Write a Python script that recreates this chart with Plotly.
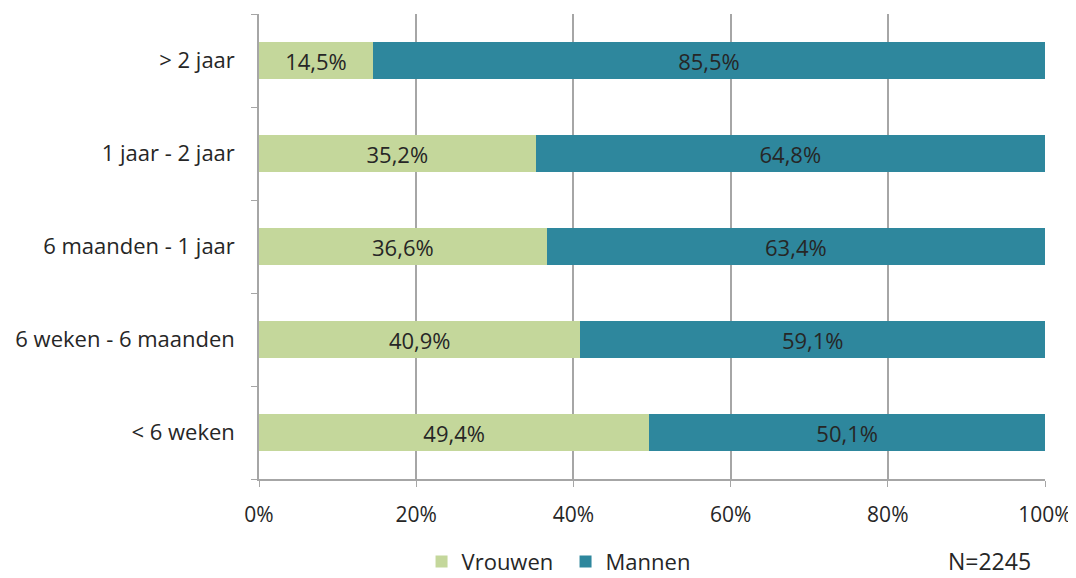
import plotly.graph_objects as go

# categories bottom -> top (Plotly draws first category at the bottom)
categories = ["< 6 weken", "6 weken - 6 maanden", "6 maanden - 1 jaar", "1 jaar - 2 jaar", "> 2 jaar"]
vrouwen = [49.4, 40.9, 36.6, 35.2, 14.5]
mannen = [50.1, 59.1, 63.4, 64.8, 85.5]
x_ticks = [0, 20, 40, 60, 80, 100]


def nl_pct(values):
    # Dutch decimal comma
    return [f"{v:.1f}%".replace(".", ",") for v in values]


font_name = "Open Sans, sans-serif"
fsize = 21

fig = go.Figure()
fig.add_trace(go.Bar(
    y=categories, x=vrouwen, name="Vrouwen", orientation="h",
    marker=dict(color="#C4D79B", line=dict(width=0)),
    text=nl_pct(vrouwen), textposition="inside", insidetextanchor="middle",
    textfont=dict(color="#262626", size=22, family=font_name),
))
fig.add_trace(go.Bar(
    y=categories, x=mannen, name="Mannen", orientation="h",
    marker=dict(color="#2E879D", line=dict(width=0)),
    text=nl_pct(mannen), textposition="inside", insidetextanchor="middle",
    textfont=dict(color="#262626", size=22, family=font_name),
))

# page body adds an 8px offset, so the figure is 8px smaller and margins shifted
fig.update_layout(
    barmode="stack",
    barnorm="percent",
    bargap=0.6,
    width=1068, height=570,
    margin=dict(l=251, r=31, t=6, b=99, autoexpand=False),
    paper_bgcolor="white", plot_bgcolor="white",
    font=dict(family=font_name, size=fsize, color="#262626"),
    xaxis=dict(
        range=[0, 100], tickvals=x_ticks, ticktext=[f"{t}%" for t in x_ticks],
        showgrid=True, gridcolor="#A6A6A6", gridwidth=1.5,
        showline=True, linecolor="#A6A6A6", linewidth=1.5,
        ticks="outside", ticklen=6, tickcolor="#A6A6A6",
        zeroline=False, fixedrange=True, automargin=False,
        ticklabelstandoff=10,
    ),
    yaxis=dict(
        type="category", tickson="boundaries",
        showline=True, linecolor="#A6A6A6", linewidth=1.5,
        ticks="outside", ticklen=6, tickcolor="#A6A6A6",
        showgrid=False, fixedrange=True, ticklabelstandoff=18,
        automargin=False, tickfont=dict(size=22),
    ),
    legend=dict(
        orientation="h", x=0.39, xanchor="center", y=-0.178, yanchor="middle",
        font=dict(size=22), traceorder="normal", itemwidth=30,
        entrywidthmode="pixels", entrywidth=99,
    ),
    showlegend=True,
    annotations=[dict(
        text="N=2245", x=0.93, y=-0.177, xref="paper", yref="paper",
        xanchor="center", yanchor="middle", showarrow=False,
        font=dict(size=23, color="#262626"),
    )],
)

fig.write_html("out.html")
